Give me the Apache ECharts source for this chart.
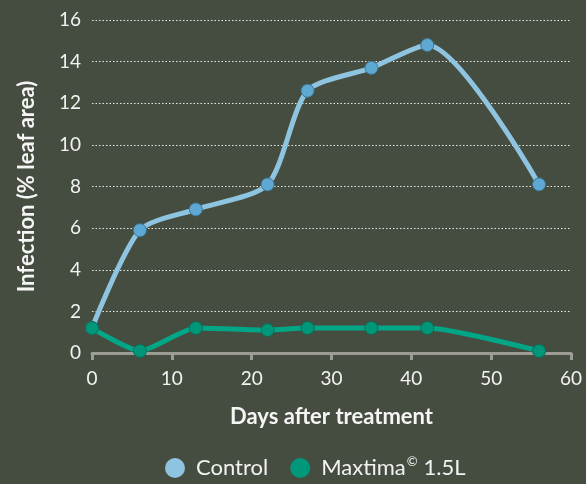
<!DOCTYPE html>
<html><head><meta charset="utf-8">
<script src="https://cdn.jsdelivr.net/npm/echarts@6/dist/echarts.min.js"></script>
<style>html,body{margin:0;padding:0;background:#454d40;}#c{width:586px;height:484px;}</style>
</head><body><div id="c"></div>
<script>
var days = [0, 6, 13, 22, 27, 35, 42, 56];
var control = [1.2, 5.9, 6.9, 8.1, 12.6, 13.7, 14.8, 8.1];
var maxtima = [1.2, 0.1, 1.2, 1.1, 1.2, 1.2, 1.2, 0.1];
var xTicks = [0, 10, 20, 30, 40, 50, 60];
var yTicks = [0, 2, 4, 6, 8, 10, 12, 14, 16];
var seriesNames = ['Control', 'Maxtima© 1.5L'];

function pairs(xs, ys){ return xs.map(function(x,i){ return [x, ys[i]]; }); }
var font = 'Lato, "Open Sans", sans-serif';
var chart = echarts.init(document.getElementById('c'), null, {renderer:'canvas'});
chart.setOption({
  backgroundColor: '#454d40',
  animation: false,
  grid: {left: 92, right: 15, top: 20, bottom: 131, containLabel: false},
  legend: {
    bottom: 0, left: 160, itemGap: 22, itemWidth: 20, itemHeight: 20, icon: 'circle',
    data: [
      {name: seriesNames[0], itemStyle: {color: '#8fc4e0', borderWidth: 0}},
      {name: seriesNames[1], itemStyle: {color: '#00987a', borderWidth: 0}}
    ],
    formatter: function(n){ return n === seriesNames[1] ? '{t|Maxtima}{s|©}{t|1.5L}' : '{t|' + n + '}'; },
    textStyle: {color: '#f2f2f2', fontSize: 22, fontFamily: font,
      rich: {
        t: {fontSize: 22, color: '#f2f2f2', fontFamily: font, padding: [0,0,0,6]},
        s: {fontSize: 13, color: '#f2f2f2', fontFamily: font, padding: [0,0,12,1]}
      }}
  },
  xAxis: {
    type: 'value', min: 0, max: 60, interval: 10,
    name: 'Days after treatment', nameLocation: 'middle', nameGap: 53,
    nameTextStyle: {color: '#f5f5f5', fontSize: 22, fontWeight: 'bold', fontFamily: font},
    axisLine: {show: true, lineStyle: {color: '#9b9d95', width: 3}},
    axisTick: {show: true, inside: false, length: 7, lineStyle: {color: '#9b9d95', width: 3}},
    axisLabel: {color: '#f2f2f2', fontSize: 19, fontFamily: font, margin: 16,
      formatter: function(v){ return xTicks.indexOf(v) >= 0 ? String(v) : ''; }},
    splitLine: {show: false}
  },
  yAxis: {
    type: 'value', min: 0, max: 16, interval: 2,
    name: 'Infection (% leaf area)', nameLocation: 'middle', nameGap: 54,
    nameTextStyle: {color: '#f5f5f5', fontSize: 22, fontWeight: 'bold', fontFamily: font},
    axisLine: {show: false}, axisTick: {show: false},
    axisLabel: {color: '#f2f2f2', fontSize: 19, fontFamily: font, margin: 11,
      formatter: function(v){ return yTicks.indexOf(v) >= 0 ? String(v) : ''; }},
    splitLine: {show: true, lineStyle: {color: '#e8e8e8', type: [1.5, 2], width: 1}}
  },
  series: [
    {name: seriesNames[0], type: 'line', data: pairs(days, control), smooth: 0.25,
     symbol: 'circle', symbolSize: 13, z: 3,
     lineStyle: {color: '#8fc4e0', width: 5},
     itemStyle: {color: '#5ea9d4', borderColor: '#3e7592', borderWidth: 1}},
    {name: seriesNames[1], type: 'line', data: pairs(days, maxtima), smooth: 0.2,
     symbol: 'circle', symbolSize: 13, z: 4,
     lineStyle: {color: '#00a685', width: 5},
     itemStyle: {color: '#00967a', borderColor: '#0b6b57', borderWidth: 1}}
  ]
});
</script></body></html>
